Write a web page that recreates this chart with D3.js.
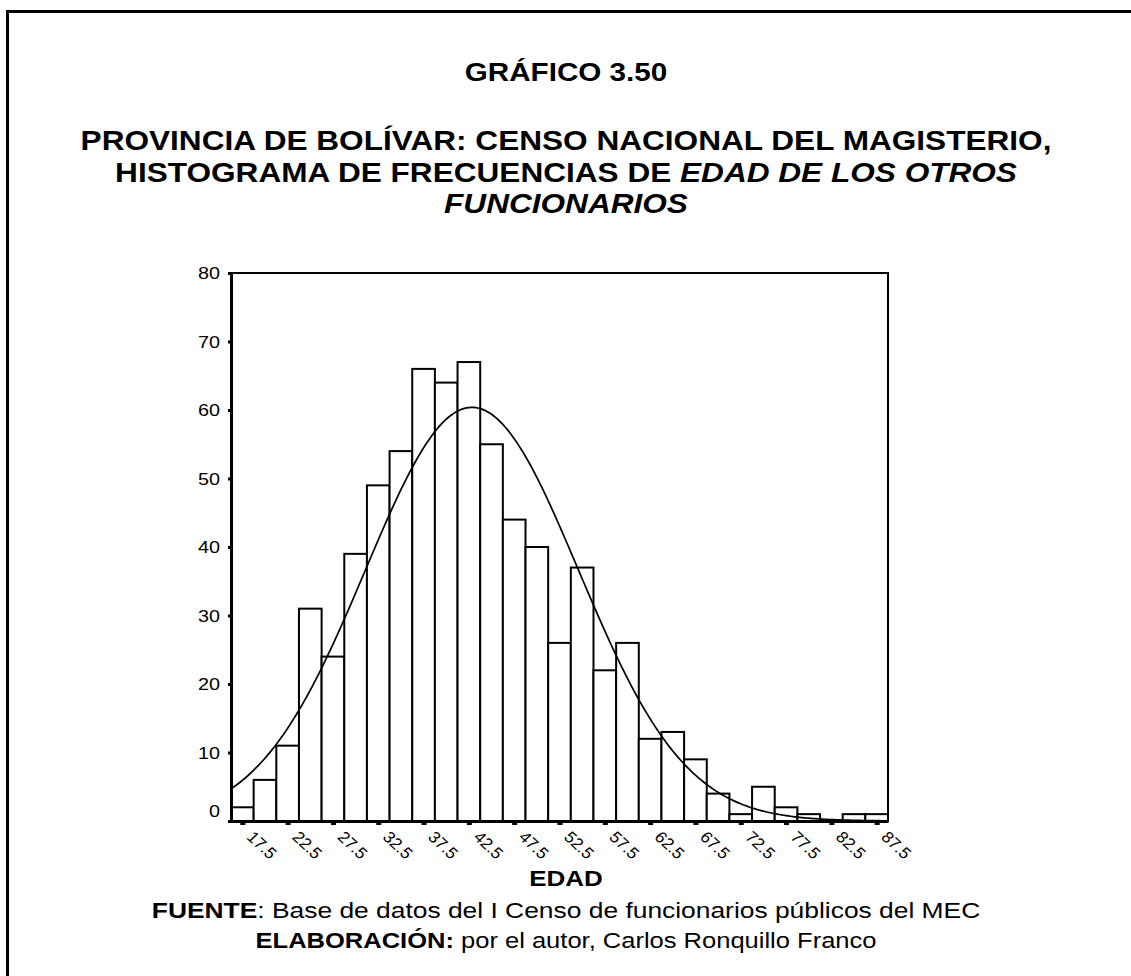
<!DOCTYPE html>
<html>
<head>
<meta charset="utf-8">
<script src="https://cdn.jsdelivr.net/npm/d3@7"></script>
<style>
  html, body { margin: 0; padding: 0; background: #fff; }
  svg { display: block; font-family: "Liberation Sans", Arial, sans-serif; }
</style>
</head>
<body>
<svg id="chart" width="1131" height="976"></svg>
<script>
// Age histogram: bins of 2.5 years, centred on 17.5, 20, 22.5 ... 87.5
const binCenters = [17.5, 20, 22.5, 25, 27.5, 30, 32.5, 35, 37.5, 40, 42.5, 45, 47.5, 50,
  52.5, 55, 57.5, 60, 62.5, 65, 67.5, 70, 72.5, 75, 77.5, 80, 82.5, 85, 87.5];
const frequencies = [2, 6, 11, 31, 24, 39, 49, 54, 66, 64, 67, 55, 44, 40,
  26, 37, 22, 26, 12, 13, 9, 4, 1, 5, 2, 1, 0, 1, 1];
const xTickLabels = [17.5, 22.5, 27.5, 32.5, 37.5, 42.5, 47.5, 52.5, 57.5, 62.5, 67.5, 72.5, 77.5, 82.5, 87.5];
const yTickLabels = [0, 10, 20, 30, 40, 50, 60, 70, 80];
const binWidth = 2.5;

const svg = d3.select("#chart");
const cx = 566;

// Centred text, widened horizontally like the rest of the page
function centredText(y, size, sx, parts, bold) {
  const t = svg.append("text")
    .attr("transform", `translate(${cx},${y}) scale(${sx},1)`)
    .attr("text-anchor", "middle").attr("font-size", size);
  parts.forEach(p => t.append("tspan")
    .attr("font-weight", p.b || bold ? "bold" : "normal")
    .attr("font-style", p.i ? "italic" : "normal")
    .text(p.t));
  return t;
}

// Outer frame (left and top edges visible)
svg.append("rect")
  .attr("x", 7.5).attr("y", 11.5)
  .attr("width", 1200).attr("height", 1100)
  .attr("fill", "none").attr("stroke", "#000").attr("stroke-width", 3);

// Titles
centredText(81, 26, 1.14, [{ t: "GRÁFICO 3.50" }], true);
const titleLines = [
  [{ t: "PROVINCIA DE BOLÍVAR: CENSO NACIONAL DEL MAGISTERIO," }],
  [{ t: "HISTOGRAMA DE FRECUENCIAS DE " }, { t: "EDAD DE LOS OTROS", i: true }],
  [{ t: "FUNCIONARIOS", i: true }]
];
titleLines.forEach((parts, k) => centredText(150 + k * 31.5, 27, 1.17, parts, true));

// Scales
const x = d3.scaleLinear()
  .domain([binCenters[0] - binWidth / 2, binCenters[binCenters.length - 1] + binWidth / 2])
  .range([231, 888]);
const y = d3.scaleLinear().domain([0, 80]).range([821, 273]);

// Plot frame (top and right)
svg.append("path")
  .attr("d", `M${x.range()[0]},${y(80)}H${x.range()[1]}V${y(0)}`)
  .attr("fill", "none").attr("stroke", "#000").attr("stroke-width", 2);

// Bars
svg.append("g").selectAll("rect")
  .data(binCenters.map((c, i) => ({ c, f: frequencies[i] })))
  .join("rect")
  .attr("x", d => x(d.c - binWidth / 2))
  .attr("width", d => x(d.c + binWidth / 2) - x(d.c - binWidth / 2))
  .attr("y", d => y(d.f))
  .attr("height", d => y(0) - y(d.f))
  .attr("fill", "#fff").attr("stroke", "#000").attr("stroke-width", 2);

// Fitted normal curve from the binned data
const n = d3.sum(frequencies);
const mean = d3.sum(binCenters, (c, i) => c * frequencies[i]) / n;
const sd = Math.sqrt(d3.sum(binCenters, (c, i) => (c - mean) ** 2 * frequencies[i]) / n);
const curvePts = d3.range(x.domain()[0], x.domain()[1] + 0.001, 0.25).map(v => [
  v, n * binWidth / (sd * Math.sqrt(2 * Math.PI)) * Math.exp(-0.5 * ((v - mean) / sd) ** 2)
]);
svg.append("path")
  .datum(curvePts)
  .attr("d", d3.line().x(d => x(d[0])).y(d => y(d[1])))
  .attr("fill", "none").attr("stroke", "#000").attr("stroke-width", 1.7);

// Y axis
const ySx = 1.2;
const yAxis = svg.append("g").attr("transform", `translate(${x.range()[0]},0)`)
  .call(d3.axisLeft(y).tickValues(yTickLabels).tickSize(3).tickPadding(8));
yAxis.select(".domain").attr("stroke-width", 3);
yAxis.selectAll(".tick line").attr("stroke-width", 3);
yAxis.selectAll(".tick text")
  .style("font-size", "16.5px").style("font-family", "Liberation Sans, Arial, sans-serif").attr("fill", "#000")
  .attr("x", -11 / ySx)
  .attr("transform", `scale(${ySx},1)`)
  .attr("dy", d => d === 0 ? "-0.3em" : "0.34em");

// X axis
const xAxis = svg.append("g").attr("transform", `translate(0,${y(0)})`)
  .call(d3.axisBottom(x).tickValues(xTickLabels).tickFormat(d3.format(".1f"))
    .tickSize(4).tickSizeOuter(0));
xAxis.select(".domain").attr("stroke-width", 3);
xAxis.selectAll(".tick line").attr("stroke-width", 5).attr("y1", 2);
xAxis.selectAll(".tick text")
  .style("font-size", "16px").style("font-family", "Liberation Sans, Arial, sans-serif").attr("fill", "#000")
  .attr("text-anchor", "start")
  .attr("x", 0).attr("y", 0).attr("dy", 0)
  .attr("transform", "translate(3,17) scale(1.08,1) rotate(45)");

// Axis title and source notes
centredText(886, 22, 1.18, [{ t: "EDAD" }], true);
centredText(918, 22, 1.2, [
  { t: "FUENTE", b: true },
  { t: ": Base de datos del I Censo de funcionarios públicos del MEC" }
], false);
centredText(948, 22, 1.16, [
  { t: "ELABORACIÓN:", b: true },
  { t: " por el autor, Carlos Ronquillo Franco" }
], false);
</script>
</body>
</html>
